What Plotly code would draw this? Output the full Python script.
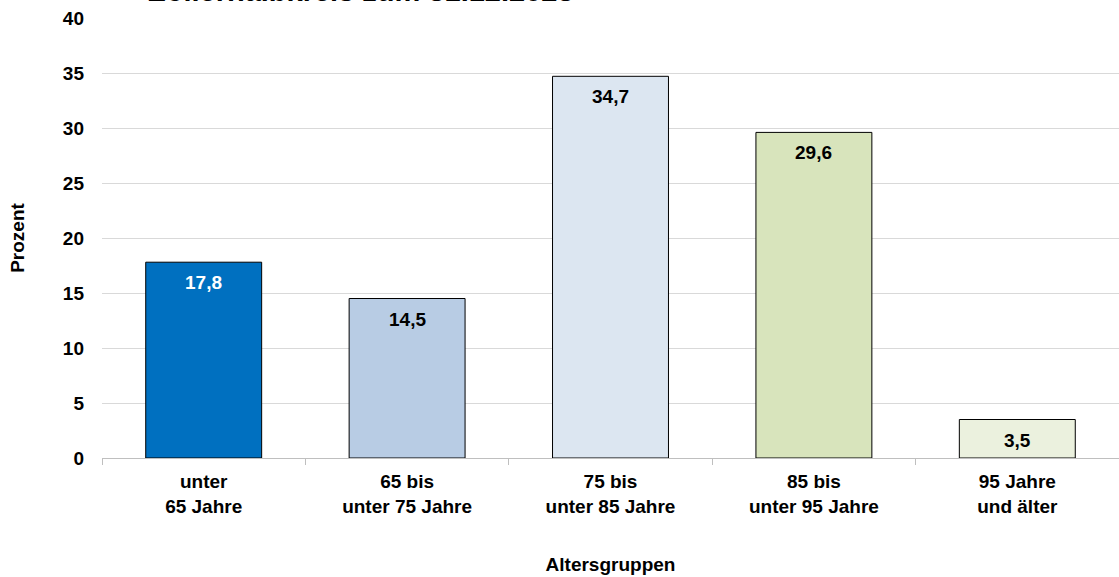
import plotly.graph_objects as go

# Altersgruppen und Anteile in Prozent
groups = ['unter<br>65 Jahre', '65 bis<br>unter 75 Jahre', '75 bis<br>unter 85 Jahre',
          '85 bis<br>unter 95 Jahre', '95 Jahre<br>und älter']
percent = [17.8, 14.5, 34.7, 29.6, 3.5]
colors = ['#0070c0', '#b8cce4', '#dce6f1', '#d8e4bc', '#ebf1de']
label_colors = ['white', 'black', 'black', 'black', 'black']

FONT = 'Liberation Sans, Arial, sans-serif'

fig = go.Figure()
fig.add_trace(go.Bar(
    x=groups, y=percent,
    marker=dict(color=colors, line=dict(color='black', width=1)),
    width=0.57,
    hoverinfo='skip',
))

# Werte innen oben in den Balken
for g, v, c in zip(groups, percent, label_colors):
    fig.add_annotation(
        x=g, y=v, xref='x', yref='y', text=f'{v:.1f}'.replace('.', ','),
        showarrow=False, yanchor='top', yshift=-8,
        font=dict(size=19, color=c, weight='bold', family=FONT),
    )

fig.update_layout(
    width=1119, height=577,
    margin=dict(l=102, r=0, t=18, b=119),
    plot_bgcolor='white', paper_bgcolor='white',
    separators=',.',
    font=dict(family=FONT, size=19, color='black', weight='bold'),
    showlegend=False,
    xaxis=dict(
        automargin=False,
        showline=True, linecolor='#bfbfbf', linewidth=1,
        ticks='outside', tickson='boundaries', ticklen=6, tickcolor='#bfbfbf',
        ticklabelstandoff=6,
        tickfont=dict(size=19, weight='bold'),
        title=dict(text='Altersgruppen', font=dict(size=19, weight='bold'), standoff=42),
    ),
    yaxis=dict(
        automargin=False,
        range=[0, 40], dtick=5, showgrid=True, gridcolor='#d9d9d9', gridwidth=1,
        zeroline=False, showline=False, ticks='', ticklabelstandoff=17,
        tickfont=dict(size=19, weight='bold'),
        title=dict(text='Prozent', font=dict(size=19, weight='bold'), standoff=33),
    ),
)

# Titel (oberer Teil liegt wie im Original ausserhalb des Bildes)
fig.add_annotation(
    text='Zollernalbkreis zum 31.12.2023', xref='paper', yref='paper',
    x=0.043, y=1, xanchor='left', yanchor='bottom', yshift=9, showarrow=False,
    font=dict(size=29, weight='bold', family=FONT),
)

fig.write_html("out.html", config={'displayModeBar': False},
               post_script="document.body.style.margin='0';")
